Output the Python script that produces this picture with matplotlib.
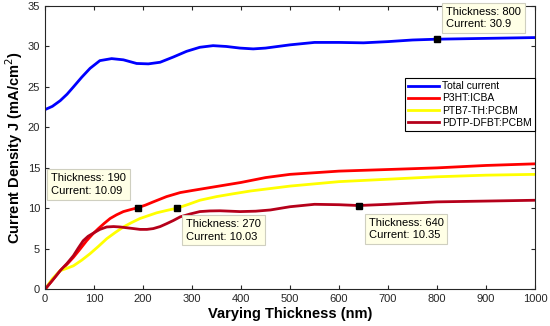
import matplotlib
matplotlib.use("Agg")
import matplotlib.pyplot as plt

plt.rcParams['font.family'] = ['Liberation Sans', 'DejaVu Sans']

x_total = [0, 15, 31, 45, 58, 75, 92, 112, 136, 160, 187, 211, 235, 262, 289, 316, 343, 370, 398, 425, 450, 500, 550, 600, 650, 700, 750, 800, 850, 900, 950, 1000]
y_total = [22.2, 22.6, 23.3, 24.1, 25.0, 26.2, 27.3, 28.25, 28.5, 28.35, 27.9, 27.85, 28.05, 28.7, 29.4, 29.9, 30.1, 30.0, 29.8, 29.7, 29.8, 30.2, 30.5, 30.5, 30.45, 30.6, 30.8, 30.9, 30.95, 31.0, 31.05, 31.1]

x_p3ht = [0, 15, 31, 45, 58, 72, 85, 97, 109, 121, 133, 146, 160, 175, 190, 205, 221, 248, 276, 300, 350, 400, 450, 500, 600, 700, 800, 900, 1000]
y_p3ht = [0, 1.1, 2.3, 3.1, 3.95, 5.0, 6.0, 6.8, 7.5, 8.15, 8.75, 9.2, 9.6, 9.85, 10.09, 10.4, 10.8, 11.45, 11.95, 12.2, 12.7, 13.2, 13.8, 14.2, 14.6, 14.8, 15.0, 15.3, 15.5]

x_ptb7 = [0, 15, 31, 45, 58, 75, 92, 109, 126, 143, 160, 177, 194, 211, 228, 249, 270, 293, 316, 350, 384, 420, 460, 500, 600, 700, 800, 900, 1000]
y_ptb7 = [0, 1.3, 2.3, 2.6, 2.9, 3.6, 4.4, 5.3, 6.25, 7.0, 7.7, 8.25, 8.75, 9.1, 9.45, 9.75, 10.03, 10.5, 11.0, 11.45, 11.8, 12.15, 12.45, 12.75, 13.3, 13.6, 13.9, 14.1, 14.2]

x_pdtp = [0, 15, 31, 45, 58, 68, 78, 88, 99, 112, 126, 140, 153, 174, 194, 208, 221, 235, 248, 262, 276, 296, 316, 336, 357, 378, 398, 430, 460, 500, 550, 600, 640, 700, 800, 900, 1000]
y_pdtp = [0, 1.1, 2.3, 3.2, 4.15, 5.1, 6.0, 6.55, 6.95, 7.4, 7.7, 7.75, 7.7, 7.55, 7.4, 7.4, 7.5, 7.75, 8.1, 8.5, 8.95, 9.3, 9.6, 9.68, 9.7, 9.65, 9.6, 9.65, 9.8, 10.2, 10.5, 10.45, 10.35, 10.5, 10.8, 10.9, 11.0]

labels = ['Total current', 'P3HT:ICBA', 'PTB7-TH:PCBM', 'PDTP-DFBT:PCBM']
colors = ['#0000FF', '#FF0000', '#FFFF00', '#B5001A']

tip_x = [800, 190, 270, 640]
tip_y = [30.9, 10.09, 10.03, 10.35]
tip_offsets = [(9, 10), (-12, 12), (9, -11), (10, -12)]
tip_ha = ['left', 'right', 'left', 'left']
tip_va = ['bottom', 'bottom', 'top', 'top']

fig = plt.figure(figsize=(5.5, 3.26), dpi=100)
ax = fig.add_axes([0.0818, 0.1126, 0.8909, 0.869])

for xs, ys, lab, col in zip([x_total, x_p3ht, x_ptb7, x_pdtp],
                            [y_total, y_p3ht, y_ptb7, y_pdtp], labels, colors):
    ax.plot(xs, ys, color=col, lw=2, label=lab, solid_joinstyle='round')

for tx, ty, off, ha, va in zip(tip_x, tip_y, tip_offsets, tip_ha, tip_va):
    ax.plot([tx], [ty], 's', color='black', ms=5, zorder=5)
    ax.annotate(f"Thickness: {tx:g}\nCurrent: {ty:g}", xy=(tx, ty),
                xytext=off, textcoords='offset pixels', fontsize=8,
                va=va, ha=ha, multialignment='left', linespacing=1.3,
                bbox=dict(boxstyle='square,pad=0.35', fc='#FFFFE6', ec='#CFCFC0', lw=0.8),
                zorder=6, annotation_clip=False)

ax.set_xlim(0, 1000)
ax.set_ylim(0, 35)
ax.set_xticks(range(0, 1001, 100))
ax.set_yticks(range(0, 36, 5))
ax.tick_params(direction='in', top=True, right=True, labelsize=8, length=3, colors='#262626')
for s in ax.spines.values():
    s.set_color('#262626')
    s.set_linewidth(0.8)
ax.set_xlabel('Varying Thickness (nm)', fontsize=10.5, fontweight='bold', labelpad=2)
ax.set_ylabel('Current Density J (mA/cm$^2$)', fontsize=10.5, fontweight='bold', labelpad=2)

leg = ax.legend(loc='upper right', bbox_to_anchor=(1.0, 0.745), fontsize=7.5,
                frameon=True, fancybox=False, edgecolor='black', framealpha=1,
                borderpad=0.3, labelspacing=0.2, handlelength=3.0, handletextpad=0.3,
                borderaxespad=0)
leg.get_frame().set_linewidth(0.8)

fig.savefig('out.png', dpi=100)
